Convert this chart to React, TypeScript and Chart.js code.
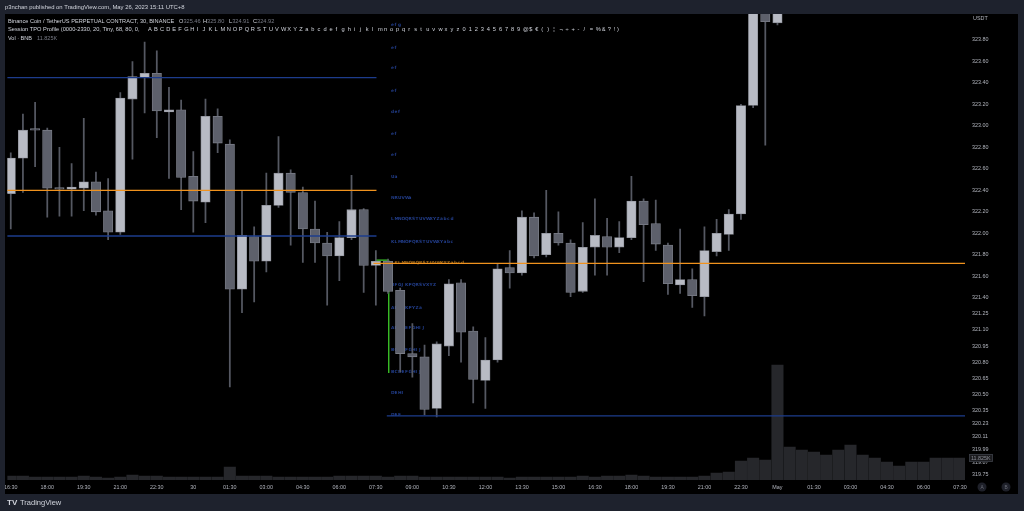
import { useEffect, useRef } from "react";
import { Chart, registerables } from "chart.js";

Chart.register(...registerables);

// ---------- data ----------
const timeLabels = ["16:30","18:00","19:30","21:00","22:30","30","01:30","03:00","04:30","06:00","07:30","09:00","10:30","12:00","13:30","15:00","16:30","18:00","19:30","21:00","22:30","May","01:30","03:00","04:30","06:00","07:30"];
const timeLabelIdx = [0,3,6,9,12,15,18,21,24,27,30,33,36,39,42,45,48,51,54,57,60,63,66,69,72,75,78];
const priceTicks = [323.80,323.60,323.40,323.20,323.00,322.80,322.60,322.40,322.20,322.00,321.80,321.60,321.40,321.25,321.10,320.95,320.80,320.65,320.50,320.35,320.23,320.11,319.99,319.87,319.75];

const opens = [322.37,322.70,322.97,322.96,322.42,322.41,322.42,322.48,322.21,322.01,323.25,323.45,323.49,323.13,323.15,322.53,322.29,323.09,322.83,321.48,321.97,321.74,322.26,322.56,322.38,322.04,321.91,321.79,321.96,322.22,321.70,321.74,321.47,320.88,320.85,320.37,320.95,321.54,321.09,320.63,320.82,321.68,321.63,322.15,321.80,322.00,321.91,321.46,321.87,321.97,321.87,321.96,322.30,322.09,321.89,321.52,321.57,321.41,321.83,321.99,322.18,323.19,324.38,323.96,324.25,324.62,324.88,324.80,324.98,325.32,325.64,325.42,325.55,325.48,325.40,325.30,325.45,325.36,325.46];
const highs = [322.75,323.11,323.22,322.98,322.80,322.65,323.07,322.57,322.51,323.31,323.60,323.78,323.70,323.36,323.24,322.76,323.25,323.16,322.87,322.40,322.06,322.56,322.90,322.59,322.43,322.30,322.01,322.11,322.54,322.23,321.84,321.76,321.49,321.16,320.96,320.99,321.57,321.57,321.13,321.03,321.72,321.84,322.21,322.19,322.40,322.20,321.94,322.10,322.32,322.14,322.11,322.53,322.32,322.31,321.91,322.04,321.67,322.06,322.13,322.22,323.20,324.45,324.52,324.40,324.70,324.95,325.10,325.05,325.40,325.80,325.75,325.60,325.70,325.62,325.58,325.52,325.68,325.55,325.80];
const lows = [322.04,322.38,322.62,322.15,322.16,322.16,322.21,322.17,321.94,321.99,322.69,323.12,322.89,322.51,322.22,322.01,322.10,322.75,320.57,321.26,321.36,321.64,322.24,321.89,321.73,321.73,321.33,321.56,321.94,321.45,321.33,321.44,320.71,320.66,320.31,320.29,320.86,320.80,320.42,320.37,320.80,321.49,321.61,321.77,321.78,321.89,321.41,321.45,321.61,321.61,321.82,321.94,321.55,321.84,321.43,321.44,321.31,321.23,321.79,321.84,322.13,323.17,322.82,323.94,324.18,324.50,324.70,324.65,324.90,325.20,325.30,325.25,325.38,325.35,325.20,325.15,325.28,325.10,324.91];
const closes = [322.70,322.96,322.96,322.42,322.41,322.43,322.48,322.20,322.01,323.26,323.46,323.49,323.14,323.15,322.52,322.30,323.09,322.84,321.48,321.98,321.74,322.26,322.56,322.38,322.04,321.91,321.79,321.96,322.22,321.70,321.74,321.46,320.88,320.85,320.36,320.97,321.53,321.08,320.64,320.82,321.67,321.63,322.15,321.79,322.00,321.91,321.45,321.87,321.98,321.87,321.96,322.30,322.08,321.90,321.53,321.57,321.42,321.84,322.00,322.18,323.19,324.38,323.97,324.25,324.62,324.88,324.80,324.98,325.32,325.64,325.42,325.55,325.48,325.40,325.30,325.45,325.36,325.46,324.92];
const volumes = [2.15,2.15,1.61,1.61,1.61,1.61,2.15,1.61,1.07,1.61,2.68,2.15,2.15,1.61,1.61,1.61,1.61,1.61,6.97,2.15,2.15,2.15,1.61,1.61,1.61,1.61,1.61,2.15,2.15,2.15,2.15,1.61,2.15,2.15,1.61,1.61,1.61,1.61,1.61,1.61,1.61,1.07,1.61,1.61,1.61,1.61,1.61,2.15,1.61,2.15,2.15,2.68,2.15,1.61,1.61,1.61,1.61,2.15,3.76,4.29,10.2,11.8,10.7,61.7,17.7,16.1,15.0,13.4,16.1,18.8,13.4,11.8,9.66,7.51,9.66,9.66,11.8,11.8,11.825];

// session levels (price)
const leftLevels = [323.45, 322.40, 321.975];   // VAH, POC, VAL (previous session)
const leftColors = ["#1d3c8c", "#f0921e", "#1d3c8c"];
const rightLevels = [321.72, 320.30];           // POC, VAL (current session)
const rightColors = ["#f0921e", "#1d3c8c"];
const ibLevels = [321.75, 320.70];              // green initial balance marker

const tpoPrices = [320.31,320.51,320.71,320.91,321.12,321.31,321.52,321.72,321.92,322.13,322.33,322.53,322.73,322.93,323.13,323.33,323.54,323.73,323.94];
const tpoRows = ["DEF","DEHI","BCDEFGHIJ","BCDEFGHIJ","ABCDEFGHIJ","ABIJKPYZa","BFGJKPQRSVXYZ","JKLMNOPQRSTUVWXYZabcd","KLMNOPQRSTUVWXYabc","LMNOQRSTUVWXYZabcd","NRUVWa","Ua","ef","ef","def","ef","ef","ef","efg"];
const tpoAlphabet = ["A","B","C","D","E","F","G","H","I","J","K","L","M","N","O","P","Q","R","S","T","U","V","W","X","Y","Z","a","b","c","d","e","f","g","h","i","j","k","l","m","n","o","p","q","r","s","t","u","v","w","x","y","z","0","1","2","3","4","5","6","7","8","9","@","$","\u20ac","(",")","\u00a6","\u00ac","\u00f7","+","-","/","=","%","&","?","!"];

const NAVY = "#1e222d";
const FONT = "'Liberation Sans', 'DejaVu Sans', sans-serif";

function fitText(ctx: CanvasRenderingContext2D, text: string, x: number, y: number, width: number, color: string, weight = "") {
  ctx.font = `${weight} 10px ${FONT}`;
  const w = ctx.measureText(text).width;
  const size = (10 * width) / w;
  ctx.font = `${weight} ${size}px ${FONT}`;
  ctx.fillStyle = color;
  ctx.fillText(text, x, y);
}

const framePlugin = {
  id: "frame",
  beforeDraw(chart: any) {
    const ctx = chart.ctx as CanvasRenderingContext2D;
    ctx.save();
    ctx.fillStyle = NAVY;
    ctx.fillRect(0, 0, chart.width, chart.height);
    ctx.fillStyle = "#000";
    ctx.fillRect(5, 14, 1013, 480);
    ctx.restore();
  },
  beforeDatasetsDraw(chart: any) {
    const ctx = chart.ctx as CanvasRenderingContext2D;
    const a = chart.chartArea;
    const xs = chart.scales.x;
    const ys = chart.scales.y;
    ctx.save();
    ctx.beginPath();
    ctx.rect(a.left, a.top, a.right - a.left, a.bottom - a.top);
    ctx.clip();
    ctx.font = "bold 4.3px 'DejaVu Sans', sans-serif";
    ctx.textBaseline = "middle";
    ctx.textAlign = "left";
    const x0 = xs.getPixelForValue(31.25);
    tpoRows.forEach((row, k) => {
      const y = ys.getPixelForValue(tpoPrices[k]);
      ctx.fillStyle = k === 7 ? "#9a6418" : "#213c88";
      for (let j = 0; j < row.length; j++) ctx.fillText(row[j], x0 + j * 3.5, y);
    });
    ctx.restore();
  },
  afterDraw(chart: any) {
    const ctx = chart.ctx as CanvasRenderingContext2D;
    ctx.save();
    ctx.fillStyle = NAVY;
    ctx.fillRect(0, 14, 5, 480);
    ctx.textBaseline = "middle";
    ctx.textAlign = "left";
    const W1 = "#d1d4dc", G = "#787b86";
    fitText(ctx, "p3nchan published on TradingView.com, May 26, 2023 15:11 UTC+8", 5, 7, 180, W1);

    // legend line 1
    fitText(ctx, "Binance Coin / TetherUS PERPETUAL CONTRACT, 30, BINANCE", 8, 21, 167, W1);
    const ohlc: [string, string, number][] = [["O", "325.46", 179], ["H", "325.80", 203], ["L", "324.91", 229], ["C", "324.92", 253]];
    ohlc.forEach(([k, v, x]) => {
      ctx.fillStyle = W1;
      ctx.fillText(k, x, 21);
      const kw = ctx.measureText(k).width;
      ctx.fillStyle = G;
      ctx.fillText(v, x + kw, 21);
    });
    // legend line 2
    fitText(ctx, "Session TPO Profile (0000-2330, 20, Tiny, 68, 80, 0,", 8, 29.5, 132, W1);
    tpoAlphabet.forEach((ch, j) => ctx.fillText(ch, 148 + j * 6.05, 29.5));
    ctx.fillText(")", 148 + tpoAlphabet.length * 6.05 - 3, 29.5);
    // legend line 3
    fitText(ctx, "Vol \u00b7 BNB", 8, 38, 24, W1);
    ctx.fillStyle = G;
    ctx.fillText("11.825K", 37, 38);

    // price axis currency
    ctx.font = `5.4px ${FONT}`;
    ctx.fillStyle = "#b2b5be";
    ctx.fillText("USDT", 973, 19);

    // volume last-value box
    const yv = chart.scales.yv.getPixelForValue(volumes[volumes.length - 1]);
    ctx.fillStyle = "#1c1c1f";
    ctx.fillRect(969, yv - 4, 24, 8);
    ctx.strokeStyle = "#3a3d45";
    ctx.lineWidth = 0.8;
    ctx.strokeRect(969.5, yv - 3.5, 23, 7);
    ctx.fillStyle = "#8a8d96";
    ctx.fillText("11.825K", 971, yv + 0.3);

    // A / B buttons
    [["A", 982], ["B", 1006]].forEach(([t, x]) => {
      ctx.beginPath();
      ctx.arc(x as number, 487, 4.5, 0, Math.PI * 2);
      ctx.fillStyle = "#1e2029";
      ctx.fill();
      ctx.fillStyle = "#6a6d78";
      ctx.textAlign = "center";
      ctx.font = `4.8px ${FONT}`;
      ctx.fillText(t as string, x as number, 487.3);
    });

    // footer logo
    ctx.textAlign = "left";
    ctx.fillStyle = "#d1d4dc";
    ctx.font = `bold 8px ${FONT}`;
    ctx.fillText("TV", 7, 502.5);
    ctx.font = `7.5px ${FONT}`;
    ctx.fillText("TradingView", 20, 502.5);
    ctx.restore();
  },
};

export default function App() {
  const ref = useRef<HTMLCanvasElement | null>(null);
  useEffect(() => {
    document.body.style.margin = "0";
    document.body.style.background = NAVY;
    document.body.style.overflow = "hidden";
    const canvas = ref.current!;
    const up = closes.map((c, i) => c >= opens[i]);
    const lineDs = (x0: number, x1: number, y: number, color: string, w = 1.4) => ({
      type: "line" as const,
      data: [{ x: x0, y }, { x: x1, y }],
      borderColor: color,
      borderWidth: w,
      pointRadius: 0,
      yAxisID: "y",
      order: -1,
    });
    const datasets: any[] = [
      ...leftLevels.map((lv, k) => lineDs(-2, 30.05, lv, leftColors[k])),
      lineDs(29.8, 80, rightLevels[0], rightColors[0]),
      lineDs(30.9, 80, rightLevels[1], rightColors[1]),
      { type: "line", data: [{ x: 30.0, y: ibLevels[0] }, { x: 31.06, y: ibLevels[0] }], borderColor: "#3fcf2a", borderWidth: 1.3, pointRadius: 0, yAxisID: "y", order: 3 },
      { type: "line", data: [{ x: 31.06, y: ibLevels[0] }, { x: 31.06, y: ibLevels[1] }], borderColor: "#3fcf2a", borderWidth: 1.3, pointRadius: 0, yAxisID: "y", order: 3 },
      {
        type: "bar",
        data: opens.map((o, i) => ({ x: i, y: [o, closes[i]] })),
        backgroundColor: up.map((u) => (u ? "#b8bbc4" : "#5d606b")),
        borderColor: up.map((u) => (u ? "#8e919a" : "#7b7e88")),
        borderWidth: 0.8,
        borderSkipped: false,
        barThickness: 9.4,
        minBarLength: 1.6,
        grouped: false,
        yAxisID: "y",
        order: 1,
      },
      {
        type: "bar",
        data: lows.map((l, i) => ({ x: i, y: [l, highs[i]] })),
        backgroundColor: "#555862",
        barThickness: 1.1,
        grouped: false,
        yAxisID: "y",
        order: 2,
      },
      {
        type: "bar",
        data: volumes.map((v, i) => ({ x: i, y: v })),
        backgroundColor: "#26272b",
        barThickness: 11.4,
        grouped: false,
        yAxisID: "yv",
        order: 5,
      },
    ];
    const chart = new Chart(canvas, {
      type: "bar",
      data: { datasets },
      options: {
        responsive: false,
        animation: false,
        maintainAspectRatio: false,
        layout: { padding: { left: 5, top: 14, right: 6, bottom: 17 } },
        plugins: { legend: { display: false }, tooltip: { enabled: false } },
        font: { family: FONT },
        scales: {
          x: {
            type: "linear",
            offset: false,
            min: -0.279,
            max: 78.41,
            position: "bottom",
            grid: { display: false, drawTicks: false, offset: false },
            border: { display: false },
            afterBuildTicks: (axis: any) => {
              axis.ticks = timeLabelIdx.map((v) => ({ value: v }));
            },
            afterFit: (axis: any) => {
              axis.height = 14;
            },
            ticks: {
              autoSkip: false,
              maxRotation: 0,
              padding: 4,
              color: "#b2b5be",
              font: { size: 5.4, family: FONT },
              callback: (v: any) => timeLabels[timeLabelIdx.indexOf(Number(v))] ?? "",
            },
          },
          y: {
            type: "linear",
            position: "right",
            min: 319.703,
            max: 324.042,
            grid: { display: false, drawTicks: false },
            border: { display: false },
            afterBuildTicks: (axis: any) => {
              axis.ticks = priceTicks.map((v) => ({ value: v }));
            },
            afterFit: (axis: any) => {
              axis.width = 53;
            },
            ticks: {
              autoSkip: false,
              padding: 7,
              color: "#b2b5be",
              font: { size: 5.4, family: FONT },
              callback: (v: any) => Number(v).toFixed(2),
            },
          },
          yv: {
            type: "linear",
            display: false,
            min: 0,
            max: 250,
          },
        },
      } as any,
      plugins: [framePlugin],
    });
    return () => chart.destroy();
  }, []);
  return <canvas ref={ref} width={1024} height={511} style={{ display: "block", width: 1024, height: 511 }} />;
}
